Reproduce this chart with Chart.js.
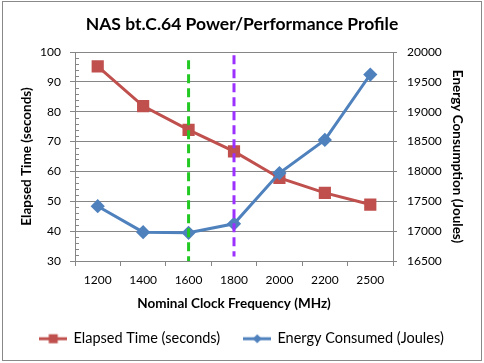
<!DOCTYPE html>
<html><head><meta charset="utf-8">
<script src="https://cdn.jsdelivr.net/npm/chart.js"></script>
<style>html,body{margin:0;padding:0;background:#fff;}canvas{display:block;}</style>
</head><body>
<canvas id="c" width="484" height="363"></canvas>
<script>
const categories = ['1200', '1400', '1600', '1800', '2000', '2200', '2500'];
const elapsedTime = [95.2, 81.9, 73.9, 66.7, 57.8, 52.8, 48.9];
const energyConsumed = [17417, 16983, 16972, 17123, 17973, 18528, 19623];
const greenLineX = '1600';
const greenLineY = [97.2, 30];
const purpleLineX = '1800';
const purpleLineY = [98.9, 31.5];
const leftTicks = [30, 100, 10];
const rightTicks = [16500, 20000, 500];

const RED = '#C0504D', BLUE = '#4F81BD', GRID = '#868686';
Chart.defaults.font.family = 'Lato';
Chart.defaults.color = '#000';

function legendIcon(color, kind) {
  const c = document.createElement('canvas');
  c.width = 28; c.height = 12;
  const g = c.getContext('2d');
  g.strokeStyle = color; g.lineWidth = 3;
  g.beginPath(); g.moveTo(0, 6); g.lineTo(28, 6); g.stroke();
  g.fillStyle = color;
  if (kind === 'rect') { g.fillRect(9.5, 1.5, 9, 9); }
  else { g.beginPath(); g.moveTo(14, 1.5); g.lineTo(18.5, 6); g.lineTo(14, 10.5); g.lineTo(9.5, 6); g.closePath(); g.fill(); }
  return c;
}
const icons = [legendIcon(RED, 'rect'), legendIcon(BLUE, 'diamond')];

const decor = {
  id: 'decor',
  afterDraw(chart) {
    const ctx = chart.ctx, y = chart.scales.y, a = chart.chartArea;
    ctx.save();
    ctx.strokeStyle = GRID; ctx.lineWidth = 1;
    ctx.beginPath();
    for (let v = leftTicks[0]; v < leftTicks[1]; v += 2) {
      if (v % leftTicks[2] === 0) continue;
      const py = Math.round(y.getPixelForValue(v)) + 0.5;
      ctx.moveTo(a.left, py); ctx.lineTo(a.left + 4, py);
    }
    ctx.stroke();
    ctx.strokeStyle = '#898989';
    ctx.strokeRect(2.5, 1.5, 479, 359);
    ctx.restore();
  }
};

const axisTitleFont = { size: 13.5, weight: 'bold' };

new Chart(document.getElementById('c'), {
  type: 'line',
  data: {
    labels: categories,
    datasets: [
      { label: 'Elapsed Time (seconds)', data: elapsedTime, yAxisID: 'y',
        borderColor: RED, backgroundColor: RED, borderWidth: 3,
        pointStyle: 'rect', pointRadius: 6.5, pointHoverRadius: 6.5, tension: 0, order: 2 },
      { label: 'Energy Consumed (Joules)', data: energyConsumed, yAxisID: 'y2',
        borderColor: BLUE, backgroundColor: BLUE, borderWidth: 3,
        pointStyle: 'rectRot', pointRadius: 5, pointHoverRadius: 5, tension: 0, order: 1 },
      { label: 'g', data: greenLineY.map(v => ({x: greenLineX, y: v})), yAxisID: 'y',
        borderColor: '#22C922', borderWidth: 3, borderDash: [9, 5], pointRadius: 0, order: 0 },
      { label: 'p', data: purpleLineY.map(v => ({x: purpleLineX, y: v})), yAxisID: 'y',
        borderColor: '#9B30FF', borderWidth: 3, borderDash: [9, 5], pointRadius: 0, order: 0 }
    ]
  },
  options: {
    responsive: false, animation: false, devicePixelRatio: 1,
    layout: { padding: { left: 0, right: 0, top: 0, bottom: 7 } },
    plugins: {
      tooltip: { enabled: false },
      title: { display: true, text: 'NAS bt.C.64 Power/Performance Profile',
        font: { size: 17.5, weight: 'bold' }, color: '#000', padding: { top: 14, bottom: 17 } },
      legend: { position: 'bottom',
        labels: { usePointStyle: true, pointStyleWidth: 26, padding: 24, font: { size: 14.5 }, color: '#000',
          generateLabels(chart) {
            return chart.data.datasets.slice(0, 2).map((ds, i) => ({
              text: ds.label, pointStyle: icons[i], datasetIndex: i, lineWidth: 0,
              strokeStyle: 'transparent', fillStyle: ds.borderColor, hidden: false, fontColor: '#000'
            }));
          } } }
    },
    scales: {
      x: { type: 'category', offset: true,
        grid: { display: true, drawOnChartArea: false, offset: true, color: GRID, tickLength: 5 },
        border: { color: GRID },
        ticks: { padding: 7, font: { size: 12 } },
        title: { display: true, text: 'Nominal Clock Frequency (MHz)', font: axisTitleFont, padding: { top: 2, bottom: -4.6 } },
        afterFit(s) { s.height = 46.5; } },
      y: { position: 'left', min: leftTicks[0], max: leftTicks[1],
        ticks: { stepSize: leftTicks[2], padding: 9, font: { size: 12 } },
        grid: { color: GRID, tickLength: 5 },
        border: { color: GRID },
        title: { display: true, text: 'Elapsed Time (seconds)', font: axisTitleFont, padding: { top: 19, bottom: 0 } },
        afterFit(s) { s.width = 75; } },
      y2: { position: 'right', min: rightTicks[0], max: rightTicks[1],
        ticks: { stepSize: rightTicks[2], padding: 10, font: { size: 12 }, callback: v => String(v) },
        grid: { drawOnChartArea: false, color: GRID, tickLength: 4 },
        border: { color: GRID },
        title: { display: true, text: 'Energy Consumption (Joules)', font: axisTitleFont, padding: { top: 19, bottom: 0 } },
        afterFit(s) { s.width = 91; } }
    }
  },
  plugins: [decor]
});
</script>
</body></html>
